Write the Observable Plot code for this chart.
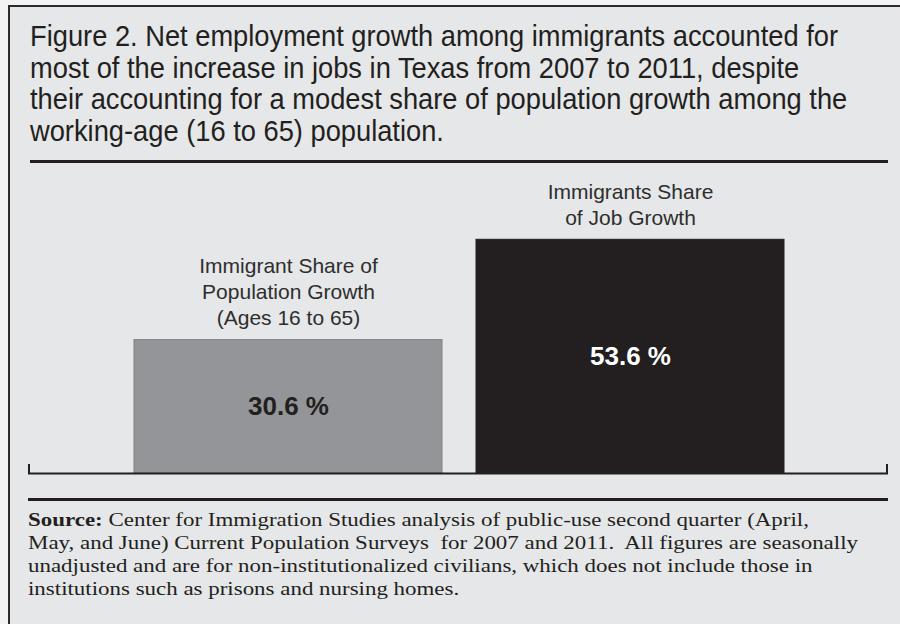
<!DOCTYPE html>
<html><head><meta charset="utf-8">
<script src="https://cdn.jsdelivr.net/npm/d3@7"></script>
<script src="https://cdn.jsdelivr.net/npm/@observablehq/plot@0.6"></script>
<style>
html,body{margin:0;padding:0;}
body{width:900px;height:624px;background:#f3f3f3;position:relative;overflow:hidden;font-family:"Liberation Sans",Arial,sans-serif;}
#frame{position:absolute;left:8px;top:5px;width:892px;height:619px;background:#e6e7e8;border-left:2px solid #2b2b2b;border-top:2px solid #2b2b2b;}
.tline{position:absolute;left:30px;white-space:nowrap;transform-origin:0 0;font-size:30px;line-height:31.7px;color:#231f20;}
.sline{position:absolute;left:28px;white-space:nowrap;transform-origin:0 0;font-family:"Liberation Serif","Times New Roman",serif;font-size:18px;line-height:23px;color:#231f20;}
.rule{position:absolute;background:#231f20;}
#chart{position:absolute;left:0;top:170px;}
</style>
</head><body>
<div id="frame"></div>
<div id="title"></div>
<div class="rule" style="left:30px;top:160px;width:858px;height:3px;"></div>
<div id="chart"></div>
<div class="rule" style="left:28px;top:464px;width:2px;height:10px;"></div>
<div class="rule" style="left:886px;top:464px;width:2px;height:10px;"></div>
<div class="rule" style="left:28px;top:498px;width:860px;height:3px;"></div>
<div id="source"></div>
<script>
const titleLines = [
  "Figure 2. Net employment growth among immigrants accounted for",
  "most of the increase in jobs in Texas from 2007 to 2011, despite",
  "their accounting for a modest share of population growth among the",
  "working-age (16 to 65) population."
];
const categories = [
  "Immigrant Share of\nPopulation Growth\n(Ages 16 to 65)",
  "Immigrants Share\nof Job Growth"
];
const values = [30.6, 53.6];
const valueLabels = ["30.6 %", "53.6 %"];
const sourceLead = "Source:";
const sourceLines = [
  " Center for Immigration Studies analysis of public-use second quarter (April,",
  "May, and June) Current Population Surveys\u00a0 for 2007 and 2011.\u00a0 All figures are seasonally",
  "unadjusted and are for non-institutionalized civilians, which does not include those in",
  "institutions such as prisons and nursing homes."
];

// Title
const titleEl = document.getElementById("title");
const tEls = titleLines.map((t, i) => {
  const d = document.createElement("div");
  d.className = "tline";
  d.style.top = (20 + i * 31.7) + "px";
  d.textContent = t;
  titleEl.appendChild(d);
  return d;
});
const tScale = 808 / tEls[0].getBoundingClientRect().width;
tEls.forEach(d => d.style.transform = `scaleX(${tScale})`);

// Source
const srcEl = document.getElementById("source");
const sEls = sourceLines.map((t, i) => {
  const d = document.createElement("div");
  d.className = "sline";
  d.style.top = (509 + i * 23) + "px";
  if (i === 0) {
    const b = document.createElement("b");
    b.textContent = sourceLead;
    d.appendChild(b);
    d.appendChild(document.createTextNode(t));
  } else d.textContent = t;
  srcEl.appendChild(d);
  return d;
});
const sScale = 830 / sEls[1].getBoundingClientRect().width;
sEls.forEach(d => d.style.transform = `scaleX(${sScale})`);

// Chart
const data = categories.map((c, i) => ({category: c, value: values[i], label: valueLabels[i]}));
const chart = Plot.plot({
  width: 900,
  height: 310,
  marginLeft: 28,
  marginRight: 12,
  marginTop: 41.4,
  marginBottom: 7,
  style: {background: "transparent", fontFamily: "'Liberation Sans', Arial, sans-serif"},
  x: {domain: categories, range: [133, 785], paddingInner: 0.099, paddingOuter: 0, axis: null},
  y: {domain: [0, 60], axis: null},
  color: {domain: categories, range: ["#939598", "#231f20"]},
  marks: [
    Plot.barY(data, {x: "category", y: "value", fill: "category", stroke: d => d.category === categories[0] ? "#808285" : "#231f20", strokeWidth: 1}),
    Plot.text(data, {x: "category", y: "value", text: "category", lineAnchor: "bottom", dy: -15, fontSize: 21, lineHeight: 1.24, fill: "#2e2e2e"}),
    Plot.text(data, {x: "category", y: d => d.value / 2, text: "label", lineAnchor: "middle", fontSize: 26, fontWeight: "bold", fill: d => d.category === categories[0] ? "#231f20" : "#ffffff"}),
    Plot.ruleY([0], {stroke: "#231f20", strokeWidth: 2})
  ]
});
document.getElementById("chart").appendChild(chart);
</script>
</body></html>
